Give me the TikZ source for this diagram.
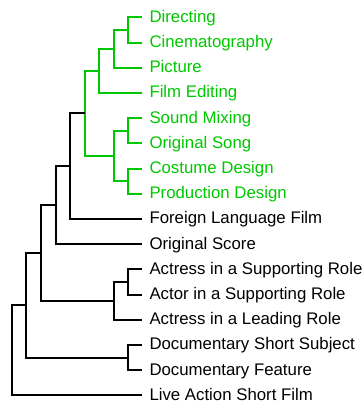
\documentclass[tikz,border=0pt]{standalone}
\usepackage{fontspec}
\setmainfont{Liberation Sans}
\definecolor{clgreen}{RGB}{0,200,0}
\begin{document}
\begin{tikzpicture}[x=1pt,y=-1pt,
  link/.style={line width=2pt,line join=miter},
  glink/.style={link,draw=clgreen},
  blink/.style={link,draw=black},
  leaflabel/.style={anchor=base west,inner sep=0pt,font=\fontsize{16.8}{18}\selectfont},
  gtext/.style={leaflabel,text=clgreen},
  btext/.style={leaflabel,text=black}]
\useasboundingbox (0,0) rectangle (363,402);
% leaf end points
\def\lx{142}
\foreach \n/\i in {l0/0,l1/1,l2/2,l3/3,l4/4,l5/5,l6/6,l7/7,l8/8,l9/9,l10/10,l11/11,l12/12,l13/13,l14/14,l15/15}{
  \coordinate (\n) at (\lx,{17.3+25.2*\i});
}
% labels
\node[gtext] (t0) at ([xshift=7.3pt,yshift=-5pt]l0) {Directing};
\node[gtext] (t1) at ([xshift=7.3pt,yshift=-5pt]l1) {Cinematography};
\node[gtext] (t2) at ([xshift=7.3pt,yshift=-5pt]l2) {Picture};
\node[gtext] (t3) at ([xshift=7.3pt,yshift=-5pt]l3) {Film Editing};
\node[gtext] (t4) at ([xshift=7.3pt,yshift=-5pt]l4) {Sound Mixing};
\node[gtext] (t5) at ([xshift=7.3pt,yshift=-5pt]l5) {Original Song};
\node[gtext] (t6) at ([xshift=7.3pt,yshift=-5pt]l6) {Costume Design};
\node[gtext] (t7) at ([xshift=7.3pt,yshift=-5pt]l7) {Production Design};
\node[btext] (t8) at ([xshift=7.3pt,yshift=-5pt]l8) {Foreign Language Film};
\node[btext] (t9) at ([xshift=7.3pt,yshift=-5pt]l9) {Original Score};
\node[btext] (t10) at ([xshift=7.3pt,yshift=-5pt]l10) {Actress in a Supporting Role};
\node[btext] (t11) at ([xshift=7.3pt,yshift=-5pt]l11) {Actor in a Supporting Role};
\node[btext] (t12) at ([xshift=7.3pt,yshift=-5pt]l12) {Actress in a Leading Role};
\node[btext] (t13) at ([xshift=7.3pt,yshift=-5pt]l13) {Documentary Short Subject};
\node[btext] (t14) at ([xshift=7.3pt,yshift=-5pt]l14) {Documentary Feature};
\node[btext] (t15) at ([xshift=7.3pt,yshift=-5pt]l15) {Live Action Short Film};
% internal merge points
\coordinate (a1) at (128,29.9);
\coordinate (a2) at (114,48.8);
\coordinate (a3) at (99,70.9);
\coordinate (b1) at (128,130.7);
\coordinate (b2) at (128,181.1);
\coordinate (b3) at (114,155.9);
\coordinate (g)  at (85,113.4);
\coordinate (c1) at (70,166.2);
\coordinate (c2) at (56,205.1);
\coordinate (d1) at (128,281.9);
\coordinate (d2) at (114,300.8);
\coordinate (c3) at (41,253.0);
\coordinate (e1) at (128,357.5);
\coordinate (c4) at (26,305.3);
\coordinate (rt) at (12,350.3);
% green cluster
\draw[glink] (l0) -| (a1) |- (l1);
\draw[glink] (a1) -| (a2) |- (l2);
\draw[glink] (a2) -| (a3) |- (l3);
\draw[glink] (l4) -| (b1) |- (l5);
\draw[glink] (l6) -| (b2) |- (l7);
\draw[glink] (b1) -| (b3) |- (b2);
\draw[glink] (a3) -| (g) |- (b3);
% black part
\draw[blink] (g) -| (c1) |- (l8);
\draw[blink] (c1) -| (c2) |- (l9);
\draw[blink] (l10) -| (d1) |- (l11);
\draw[blink] (d1) -| (d2) |- (l12);
\draw[blink] (c2) -| (c3) |- (d2);
\draw[blink] (l13) -| (e1) |- (l14);
\draw[blink] (c3) -| (c4) |- (e1);
\draw[blink] (c4) -| (rt) |- (l15);
\end{tikzpicture}
\end{document}
